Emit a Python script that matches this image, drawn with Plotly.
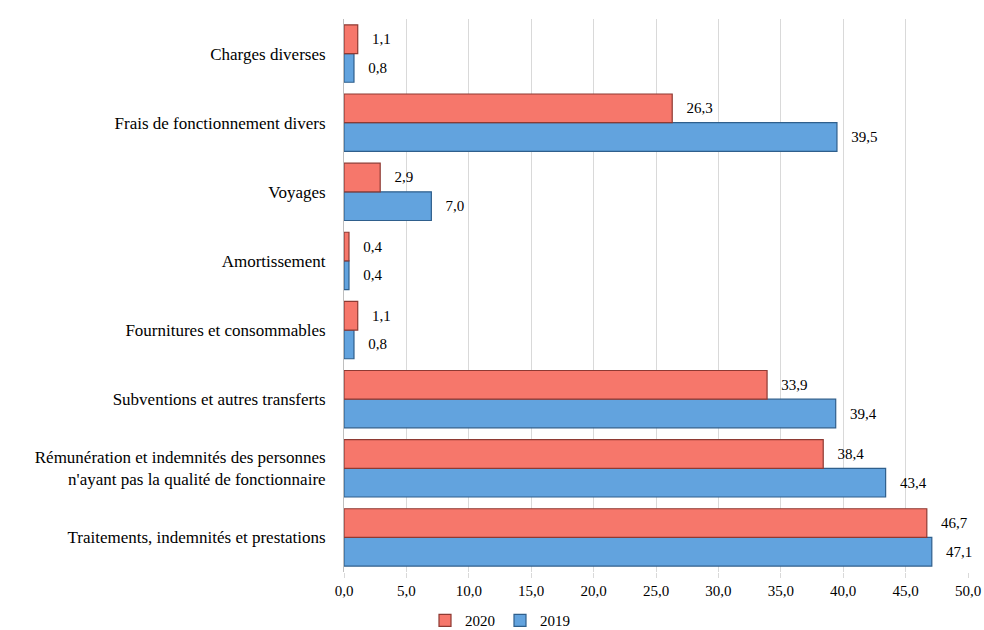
import plotly.graph_objects as go

categories = [
    "Traitements, indemnités et prestations",
    "Rémunération et indemnités des personnes<br>n'ayant pas la qualité de fonctionnaire",
    "Subventions et autres transferts",
    "Fournitures et consommables",
    "Amortissement",
    "Voyages",
    "Frais de fonctionnement divers",
    "Charges diverses",
]
values_2020 = [46.7, 38.4, 33.9, 1.1, 0.4, 2.9, 26.3, 1.1]
values_2019 = [47.1, 43.4, 39.4, 0.8, 0.4, 7.0, 39.5, 0.8]
tick_vals = [0, 5, 10, 15, 20, 25, 30, 35, 40, 45, 50]

font_family = "'Liberation Serif', 'Times New Roman', serif"

fig = go.Figure()
fig.add_trace(go.Bar(
    y=categories, x=values_2019, name="2019", orientation="h",
    marker=dict(color="#62A3DE", line=dict(color="#2F5F8C", width=1.2)),
    texttemplate="\u00a0\u00a0\u00a0%{x:.1f}", textposition="outside",
    textfont=dict(family=font_family, size=15, color="#000000"),
    cliponaxis=False,
))
fig.add_trace(go.Bar(
    y=categories, x=values_2020, name="2020", orientation="h",
    marker=dict(color="#F6776B", line=dict(color="#8E3A33", width=1.2)),
    texttemplate="\u00a0\u00a0\u00a0%{x:.1f}", textposition="outside",
    textfont=dict(family=font_family, size=15, color="#000000"),
    cliponaxis=False,
))

fig.update_layout(
    width=984, height=630,
    barmode="group", bargap=0.17, bargroupgap=0.0,
    separators=", ",
    paper_bgcolor="white", plot_bgcolor="white",
    margin=dict(l=344, r=16, t=19, b=58, autoexpand=False),
    font=dict(family=font_family, size=15, color="#000000"),
    legend=dict(
        orientation="h", x=0.25, xanchor="center", xref="paper",
        y=-0.058, yanchor="top", traceorder="reversed",
        font=dict(family=font_family, size=15),
        itemwidth=30, tracegroupgap=0,
    ),
    showlegend=True,
)
fig.update_xaxes(
    range=[0, 50], tickvals=tick_vals, tickformat=".1f",
    showgrid=True, gridcolor="#D9D9D9", gridwidth=1,
    ticks="outside", ticklen=5, tickcolor="#D9D9D9",
    zeroline=False, showline=False,
    tickfont=dict(family=font_family, size=15),
)
fig.update_yaxes(
    showline=True, linecolor="#BFBFBF", linewidth=1,
    ticks="", ticklabelstandoff=14,
    tickfont=dict(family=font_family, size=17),
    automargin=False,
)

fig.write_html("out.html")
